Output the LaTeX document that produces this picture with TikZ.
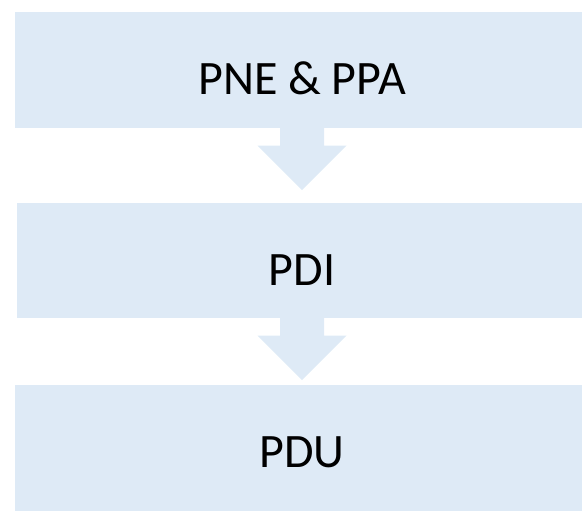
\documentclass[tikz,border=0pt]{standalone}
\usepackage{fontspec}
\setmainfont{Carlito}
\usepackage{xcolor}
\usetikzlibrary{positioning, calc}
\definecolor{stagefill}{HTML}{DEEAF6}

\begin{document}
\begin{tikzpicture}[x=1pt, y=-1pt,
    stage/.style={fill=stagefill, inner sep=0pt, minimum width=574pt, minimum height=116pt,
                  font=\fontsize{48}{58}\selectfont, text height=50pt, text depth=0pt},
    flow/.style={fill=stagefill}]
				  \useasboundingbox (0,0) rectangle (582,511);
				  \clip (0,0) rectangle (582,511);
				  \node[stage] (pne) at (302,70) {PNE \& PPA};
				  \node[stage, minimum width=570pt, minimum height=115pt] (pdi) at (302,260.5) {PDI};
				  \node[stage, minimum height=132pt, text depth=18pt] (pdu) at (302,451) {PDU};
				  \foreach \a in {pne,pdi}
				    \fill[flow] ($(\a.south)+(-22,0)$) -- ++(0,17.5) -- ++(-22.5,0)
				      -- ($(\a.south)+(0,62)$) -- ($(\a.south)+(44.5,17.5)$)
				      -- ++(-22.5,0) -- ($(\a.south)+(22,0)$) -- cycle;
				\end{tikzpicture}
\end{document}
